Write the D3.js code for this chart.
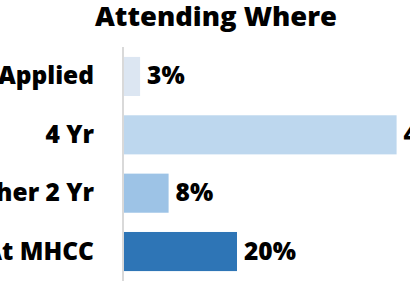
<!DOCTYPE html>
<html><head><meta charset="utf-8">
<script src="https://cdn.jsdelivr.net/npm/d3@7"></script>
<style>body{margin:0;background:#fff;overflow:hidden}svg{display:block}</style>
</head><body>
<svg id="c" width="410" height="286"></svg>
<script>
const title = "Attending Where";
const categories = ["Not Applied", "4 Yr", "Other 2 Yr", "At MHCC"];
const values = [3, 48, 8, 20];
const colors = ["#dce6f2", "#bdd7ee", "#9dc3e6", "#2e75b6"];

const svg = d3.select("#c");
const font = "'Open Sans', sans-serif";
const x0 = 123;
const x = d3.scaleLinear().domain([0, 20]).range([x0, 237]);
const y = d3.scaleBand().domain(categories).range([47, 281]).paddingInner(0.33).paddingOuter(0.17);

svg.append("text").attr("x", 216).attr("y", 26).attr("text-anchor", "middle")
  .attr("font-family", font).attr("font-weight", 800).attr("font-size", 27).attr("fill", "#000")
  .attr("textLength", 242).attr("lengthAdjust", "spacingAndGlyphs")
  .text(title);

svg.selectAll("rect.bar").data(values).enter().append("rect")
  .attr("x", x0).attr("y", (d, i) => y(categories[i]))
  .attr("width", d => x(d) - x0).attr("height", y.bandwidth())
  .attr("fill", (d, i) => colors[i]);

svg.append("line").attr("x1", x0).attr("x2", x0).attr("y1", 47).attr("y2", 281)
  .attr("stroke", "#d9d9d9").attr("stroke-width", 2);

svg.selectAll("text.cat").data(categories).enter().append("text")
  .attr("x", 94).attr("y", d => y(d) + y.bandwidth() / 2 + 8)
  .attr("text-anchor", "end").attr("font-family", font).attr("font-weight", 800)
  .attr("font-size", 24.5).attr("fill", "#000").text(d => d);

svg.selectAll("text.val").data(values).enter().append("text")
  .attr("x", d => x(d) + 7).attr("y", (d, i) => y(categories[i]) + y.bandwidth() / 2 + 8)
  .attr("font-family", font).attr("font-weight", 800)
  .attr("font-size", 24.5).attr("fill", "#000").text(d => d + "%");
</script>
</body></html>
